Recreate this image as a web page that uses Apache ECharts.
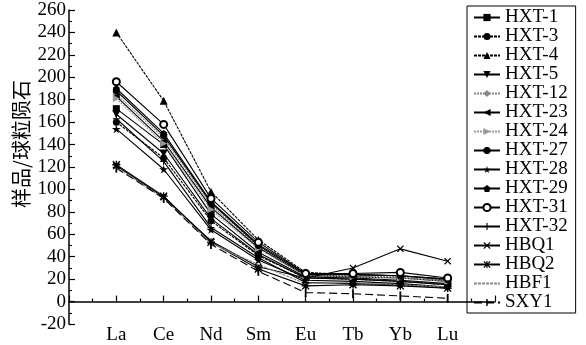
<!DOCTYPE html>
<html>
<head>
<meta charset="utf-8">
<script src="https://cdn.jsdelivr.net/npm/echarts@6/dist/echarts.min.js"></script>
<style>
  html, body { margin: 0; padding: 0; background: #fff; }
  #main { width: 586px; height: 345px; }
</style>
</head>
<body>
<div id="main"></div>
<script>
// 稀土元素
const elements = ['La', 'Ce', 'Nd', 'Sm', 'Eu', 'Tb', 'Yb', 'Lu'];

// 样品/球粒陨石 标准化值
const hxt1  = [172, 140, 78, 44, 22, 21, 19, 16];
const hxt3  = [160, 128, 72, 41, 21, 20, 18, 15];
const hxt4  = [240, 179, 98, 55, 26, 24, 23, 19];
const hxt5  = [167, 132, 74, 42, 21, 20, 18, 15];
const hxt12 = [185, 146, 86, 49, 24, 23, 22, 19];
const hxt23 = [183, 143, 84, 48, 23, 22, 21, 18];
const hxt24 = [181, 141, 82, 47, 23, 22, 21, 18];
const hxt27 = [188, 148, 88, 50, 24, 24, 23, 20];
const hxt28 = [154, 118, 64, 37, 19, 18, 16, 13];
const hxt29 = [190, 150, 89, 51, 25, 24, 23, 20];
const hxt31 = [196, 158, 92, 53, 25, 25, 26, 21];
const hxt32 = [163, 125, 66, 39, 17, 16, 15, 12];
const hbq1  = [121, 93, 54, 31, 21, 30, 47, 36];
const hbq2  = [122, 94, 53, 29, 14, 15, 14, 12];
const hbf1  = [120, 92, 52, 33, 16, 17, 15, 13];
const sxy1  = [119, 92, 51, 27, 8, 7, 5, 3];

const yTicks = { min: -20, max: 260, step: 20 };

const STAR = 'path://M50,0 L61,35 L98,35 L68,57 L79,91 L50,70 L21,91 L32,57 L2,35 L39,35 Z';
const PENTA = 'path://M50,0 L98,36 L80,95 L20,95 L2,36 Z';
const HEXA = 'path://M30,0 L70,0 L100,30 L100,70 L70,100 L30,100 L0,70 L0,30 Z';
const PLUS = 'path://M42,0 H58 V42 H100 V58 H58 V100 H42 V58 H0 V42 H42 Z';
const CROSS = 'path://M12,0 L50,38 L88,0 L100,12 L62,50 L100,88 L88,100 L50,62 L12,100 L0,88 L38,50 L0,12 Z';
const ASTER = 'path://M12,0 L50,38 L88,0 L100,12 L62,50 L100,88 L88,100 L50,62 L12,100 L0,88 L38,50 L0,12 Z M42,0 H58 V100 H42 Z M0,42 H100 V58 H0 Z';
// 竖线符号，保留方形包围盒
const BAR = 'path://M0,0 M100,100 M40,0 H60 V100 H40 Z';

const font = 'Liberation Serif';

function mk(name, values, symbol, opts) {
    opts = opts || {};
    const color = opts.color || '#000';
    const s = {
        name: name,
        type: 'line',
        data: values.map((v, i) => [i + 1, v]),
        symbol: symbol,
        symbolSize: opts.size || 7,
        symbolRotate: opts.rotate || 0,
        symbolKeepAspect: true,
        lineStyle: { color: color, width: 1.1, type: opts.dash || 'solid' },
        itemStyle: { color: color, borderColor: color, borderWidth: opts.border || 0 },
        emphasis: { disabled: true },
        animation: false
    };
    if (opts.hide) {
        s.showSymbol = false;
        s.itemStyle.opacity = 0;
    }
    return s;
}

var myChart = echarts.init(document.getElementById('main'));

option = {
    backgroundColor: '#fff',
    animation: false,
    grid: { left: 69, right: 91, top: 10, bottom: 21 },
    legend: {
        orient: 'vertical',
        left: 467,
        top: 6,
        padding: [2, 8, 1, 6],
        itemWidth: 26,
        itemHeight: 9,
        itemGap: 0,
        borderColor: '#000',
        borderWidth: 1,
        textStyle: { color: '#000', fontFamily: font, fontSize: 19 },
        data: ['HXT-1', 'HXT-3', 'HXT-4', 'HXT-5', 'HXT-12', 'HXT-23', 'HXT-24', 'HXT-27',
               'HXT-28', 'HXT-29', 'HXT-31', 'HXT-32', 'HBQ1', 'HBQ2', 'HBF1', 'SXY1']
    },
    xAxis: {
        type: 'value',
        min: 0,
        max: 9,
        interval: 1,
        axisLine: { lineStyle: { color: '#000', width: 1.5 } },
        axisTick: { inside: true, length: 6, lineStyle: { color: '#000', width: 1.2 } },
        minorTick: { show: true, splitNumber: 2, length: 3, lineStyle: { color: '#000', width: 1.2 } },
        splitLine: { show: false },
        axisLabel: {
            color: '#000',
            fontFamily: font,
            fontSize: 19,
            margin: 2,
            formatter: function (v) {
                return elements[v - 1] || '';
            }
        }
    },
    yAxis: {
        type: 'value',
        min: yTicks.min,
        max: yTicks.max,
        interval: yTicks.step,
        axisLine: { show: true, lineStyle: { color: '#000', width: 1.5 } },
        axisTick: { inside: true, length: 6, lineStyle: { color: '#000', width: 1.2 } },
        minorTick: { show: true, splitNumber: 2, length: 3, lineStyle: { color: '#000', width: 1.2 } },
        splitLine: { show: false },
        axisLabel: { color: '#000', fontFamily: font, fontSize: 19, margin: 3 }
    },
    graphic: [{
        type: 'text',
        x: 21,
        y: 144,
        rotation: Math.PI / 2,
        style: {
            text: '样品/球粒陨石',
            fill: '#000',
            font: '20px "Noto Sans CJK SC"',
            textAlign: 'center',
            textVerticalAlign: 'middle'
        }
    }],
    series: [
        mk('HXT-1', hxt1, 'rect'),
        mk('HXT-3', hxt3, 'circle', { dash: [3, 1] }),
        mk('HXT-4', hxt4, 'triangle', { size: 8, dash: [3, 1] }),
        mk('HXT-5', hxt5, 'triangle', { size: 8, rotate: 180 }),
        mk('HXT-12', hxt12, 'diamond', { size: 8, color: '#888', dash: [2, 1] }),
        mk('HXT-23', hxt23, 'triangle', { rotate: 90 }),
        mk('HXT-24', hxt24, 'triangle', { rotate: -90, color: '#999', dash: [2, 1] }),
        mk('HXT-27', hxt27, HEXA),
        mk('HXT-28', hxt28, STAR, { size: 9 }),
        mk('HXT-29', hxt29, PENTA),
        mk('HXT-31', hxt31, 'emptyCircle', { border: 1 }),
        mk('HXT-32', hxt32, PLUS),
        mk('HBQ1', hbq1, CROSS),
        mk('HBQ2', hbq2, ASTER, { size: 8 }),
        mk('HBF1', hbf1, 'circle', { color: '#888', dash: [3, 1], hide: true }),
        mk('SXY1', sxy1, BAR, { size: 9, dash: [8, 4] })
    ]
};
myChart.setOption(option);
</script>
</body>
</html>
